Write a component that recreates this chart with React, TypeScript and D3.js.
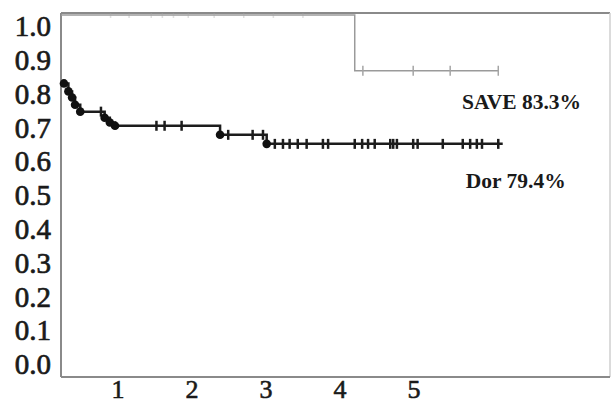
import * as d3 from 'd3';

// y tick labels and x tick labels as printed on the figure
const yTickLabels = ['1.0', '0.9', '0.8', '0.7', '0.6', '0.5', '0.4', '0.3', '0.2', '0.1', '0.0'];
const xTicks = [1, 2, 3, 4, 5];

// Dor group (black curve): event times (years) and survival after each event
const dorStart = { t: 0.27, s: 0.811 };
const dorEventTimes = [0.33, 0.38, 0.42, 0.49, 0.82, 0.89, 0.96, 2.38, 3.01];
const dorEventSurv = [0.789, 0.772, 0.752, 0.733, 0.716, 0.703, 0.694, 0.669, 0.644];
const dorCensored = [0.77, 1.52, 1.63, 1.86, 2.49, 2.82, 2.96, 3.12, 3.23, 3.32, 3.43, 3.55, 3.77, 3.84,
  4.2, 4.3, 4.38, 4.47, 4.68, 4.72, 4.77, 4.99, 5.05, 5.39, 5.66, 5.76, 5.85, 5.92, 6.14];
const dorEnd = 6.2;

// SAVE group (grey curve)
const saveStart = { t: 0.23, s: 1.0 };
const saveEventTimes = [4.2];
const saveEventSurv = [0.846];
const saveCensored = [0.9, 1.15, 1.45, 1.6, 1.75, 1.95, 2.3, 2.7, 3.1, 3.5, 4.31, 4.99, 5.49, 6.14];
const saveEnd = 6.14;

const labels = [
  { text: 'SAVE 83.3%', t: 5.65, s: 0.762 },
  { text: 'Dor 79.4%', t: 5.7, s: 0.543 },
];

const W = 613;
const H = 405;
const frame = { left: 61, right: 610, top: 13, bottom: 377 };

function survAt(times: number[], surv: number[], s0: number, t: number) {
  let s = s0;
  times.forEach((et, i) => { if (et <= t) s = surv[i]; });
  return s;
}

function App() {
  const x = d3.scaleLinear().domain([0.23, 7.65]).range([frame.left, frame.right]);
  const y = d3.scaleLinear().domain([0, 1]).range([frame.bottom, 15]);
  const yLab = d3.scalePoint<string>().domain(yTickLabels).range([26, 364]);

  const line = d3.line<[number, number]>()
    .x(d => x(d[0]))
    .y(d => y(d[1]))
    .curve(d3.curveStepAfter);

  const curvePts = (start: { t: number; s: number }, times: number[], surv: number[], end: number) => {
    const pts: [number, number][] = [[start.t, start.s]];
    times.forEach((t, i) => pts.push([t, surv[i]]));
    pts.push([end, surv[surv.length - 1]]);
    return pts;
  };

  const dorPts = curvePts(dorStart, dorEventTimes, dorEventSurv, dorEnd);
  const savePts = curvePts(saveStart, saveEventTimes, saveEventSurv, saveEnd);
  const font = '"Liberation Serif", "Times New Roman", serif';
  const ink = '#1a1a1a';

  return (
    <svg width={W} height={H} style={{ position: 'absolute', left: 0, top: 0, background: '#fff' }}>
      {/* frame */}
      <line x1={frame.left} x2={frame.right} y1={frame.top} y2={frame.top} stroke="#8a8a8a" strokeWidth={2} />
      <line x1={frame.right} x2={frame.right} y1={frame.top} y2={frame.bottom} stroke="#cfcfcf" strokeWidth={1.5} />
      <line x1={frame.left} x2={frame.right} y1={frame.bottom} y2={frame.bottom} stroke="#8a8a8a" strokeWidth={2} />
      <line x1={frame.left} x2={frame.left} y1={frame.top} y2={frame.bottom} stroke="#8a8a8a" strokeWidth={2} />

      {/* y tick labels */}
      {yTickLabels.map(l => (
        <text key={l} x={51} y={yLab(l)} dy="0.35em" textAnchor="end" fontFamily={font} fontSize={29}
          fill={ink} stroke={ink} strokeWidth={0.7}>{l}</text>
      ))}
      {/* x tick labels */}
      {xTicks.map(v => (
        <text key={v} x={x(v)} y={398} textAnchor="middle" fontFamily={font} fontSize={26}
          fill={ink} stroke={ink} strokeWidth={0.6}>{v}</text>
      ))}

      {/* SAVE curve */}
      <path d={line(savePts) ?? ''} fill="none" stroke="#9a9a9a" strokeWidth={1.5} />
      {saveCensored.map((t, i) => {
        const s = survAt(saveEventTimes, saveEventSurv, saveStart.s, t);
        const top = s > 0.99;
        return <line key={i} x1={x(t)} x2={x(t)} y1={y(s) - (top ? 2 : 5)} y2={y(s) + (top ? 3 : 5)}
          stroke="#a5a5a5" strokeWidth={1.5} opacity={top ? 0.35 : 1} />;
      })}

      {/* Dor curve */}
      <path d={line(dorPts) ?? ''} fill="none" stroke="#1c1c1c" strokeWidth={2.5} />
      {dorCensored.map((t, i) => {
        const s = survAt(dorEventTimes, dorEventSurv, dorStart.s, t);
        return <line key={i} x1={x(t)} x2={x(t)} y1={y(s) - 5} y2={y(s) + 5} stroke="#1c1c1c" strokeWidth={2.5} />;
      })}
      {[[dorStart.t, dorStart.s] as [number, number], ...dorEventTimes.map((t, i) => [t, dorEventSurv[i]] as [number, number])].map((d, i) => (
        <circle key={i} cx={x(d[0])} cy={y(d[1])} r={4.3} fill="#111" />
      ))}

      {/* group labels */}
      {labels.map(l => (
        <text key={l.text} x={x(l.t)} y={y(l.s)} dy="0.35em" fontFamily={font} fontSize={21.5} fontWeight="bold"
          fill={ink}>{l.text}</text>
      ))}
    </svg>
  );
}

export default App;
